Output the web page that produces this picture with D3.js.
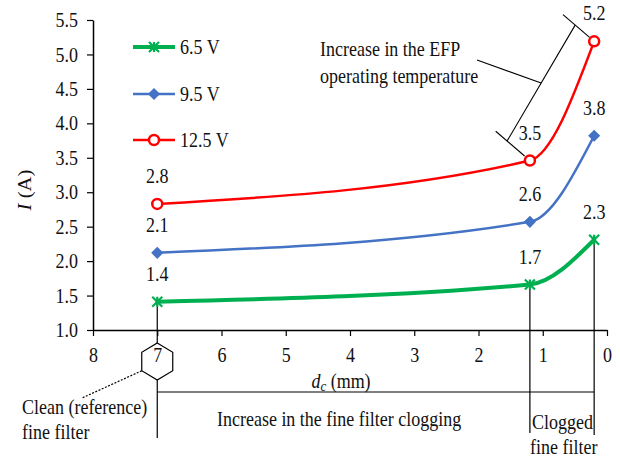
<!DOCTYPE html>
<html>
<head>
<meta charset="utf-8">
<script src="https://d3js.org/d3.v7.min.js"></script>
<style>
  body { margin: 0; background: #fff; }
  text { font-family: "Liberation Serif", "DejaVu Serif", serif; fill: #111; }
</style>
</head>
<body>
<div id="chart"></div>
<script>
// d_c (mm) at each measurement, and current I (A) per supply voltage
const dcValues = [7, 1.2, 0.2];
const seriesNames = ["6.5 V", "9.5 V", "12.5 V"];
const current65 = [1.41, 1.66, 2.31];
const current95 = [2.12, 2.57, 3.82];
const current125 = [2.83, 3.46, 5.19];
const yTicks = [1.0, 1.5, 2.0, 2.5, 3.0, 3.5, 4.0, 4.5, 5.0, 5.5];
const xTicks = [8, 7, 6, 5, 4, 3, 2, 1, 0];

const W = 620, H = 459;
const FS = 18, STRETCH = 1.15;   // source picture is a bit taller than wide
const FONT = '"Liberation Serif", "DejaVu Serif", serif';

const svg = d3.select("#chart").append("svg")
    .attr("width", W)
    .attr("height", H);

svg.append("rect").attr("width", W).attr("height", H).attr("fill", "#fff");

const x = d3.scaleLinear().domain([8, 0]).range([93, 607]);
const y = d3.scaleLinear().domain([1, 5.5]).range([330, 20]);

function txt(px, py, str, anchor) {
    return svg.append("text")
        .attr("transform", `translate(${px},${py}) scale(1,${STRETCH})`)
        .attr("text-anchor", anchor || "start")
        .style("font-family", FONT)
        .style("font-size", FS + "px")
        .text(str);
}

const series = [
    { name: seriesNames[0], values: current65, color: "#00b050", width: 4, marker: "star" },
    { name: seriesNames[1], values: current95, color: "#4472c4", width: 2.5, marker: "diamond" },
    { name: seriesNames[2], values: current125, color: "#ff0000", width: 2.5, marker: "circle" }
];

// ---- bottom annotation (drawn first so the axis sits on top)
const green = series[0].values;
const ann = svg.append("g").attr("stroke", "#000").attr("stroke-width", 1.2).attr("fill", "none");
ann.append("line")
    .attr("x1", x(7)).attr("y1", y(green[0]))
    .attr("x2", x(7)).attr("y2", 438);
ann.append("line")
    .attr("x1", x(1.2)).attr("y1", y(green[1]))
    .attr("x2", x(1.2)).attr("y2", 433);
ann.append("line")
    .attr("x1", x(0.2)).attr("y1", y(green[2]))
    .attr("x2", x(0.2)).attr("y2", 435);
ann.append("line")
    .attr("x1", x(7)).attr("y1", 392)
    .attr("x2", x(0.2)).attr("y2", 392);

// hexagon round the tick "7"
const hx = x(7), hy = 361.5, hr = 18.5, hw = 15.5;
ann.append("path")
    .attr("fill", "#fff")
    .attr("d", d3.line()([[hx, hy - hr], [hx + hw, hy - hr / 2], [hx + hw, hy + hr / 2],
        [hx, hy + hr], [hx - hw, hy + hr / 2], [hx - hw, hy - hr / 2]]) + "Z");
ann.append("line")
    .attr("x1", hx - hw).attr("y1", hy + hr / 2)
    .attr("x2", 82).attr("y2", 398)
    .attr("stroke-dasharray", "2,1.5");

// ---- axes
const xAxis = svg.append("g")
    .attr("transform", `translate(0,${y(1)})`)
    .call(d3.axisBottom(x).tickValues(xTicks).tickFormat(d3.format("d")).tickSize(6).tickSizeOuter(0));
xAxis.selectAll("text")
    .attr("y", 0).attr("dy", null)
    .attr("transform", `translate(0,32) scale(1,${STRETCH})`)
    .style("font-family", FONT)
    .style("font-size", FS + "px");

const yAxis = svg.append("g")
    .attr("transform", `translate(${x(8)},0)`)
    .call(d3.axisLeft(y).tickValues(yTicks).tickFormat(d3.format(".1f")).tickSize(6).tickPadding(9).tickSizeOuter(0));
yAxis.selectAll("text")
    .attr("transform", `scale(1,${STRETCH})`)
    .style("font-family", FONT)
    .style("font-size", FS + "px");

svg.selectAll(".domain").attr("stroke", "#000").attr("stroke-width", 1.5);
svg.selectAll(".tick line").attr("stroke", "#000").attr("stroke-width", 1.2);

// axis titles
const yt = svg.append("text")
    .attr("transform", `translate(31,190) rotate(-90) scale(${STRETCH},1)`)
    .attr("text-anchor", "middle")
    .style("font-family", FONT)
    .style("font-size", FS + "px");
yt.append("tspan").style("font-style", "italic").text("I");
yt.append("tspan").text(" (A)");

const xt = svg.append("text")
    .attr("transform", `translate(341,388) scale(1,${STRETCH})`)
    .attr("text-anchor", "middle")
    .style("font-family", FONT)
    .style("font-size", FS + "px");
xt.append("tspan").style("font-style", "italic").text("d");
xt.append("tspan").style("font-style", "italic").style("font-size", "13px").attr("dy", 3).text("c");
xt.append("tspan").attr("dy", -3).text(" (mm)");

// ---- markers
function drawMarker(g, type, color, px, py) {
    if (type === "circle") {
        g.append("circle").attr("cx", px).attr("cy", py).attr("r", 5)
            .attr("fill", "#fff").attr("stroke", color).attr("stroke-width", 2.5);
    } else if (type === "diamond") {
        g.append("path")
            .attr("d", `M${px},${py - 5}L${px + 5},${py}L${px},${py + 5}L${px - 5},${py}Z`)
            .attr("fill", color).attr("stroke", color).attr("stroke-width", 1.5);
    } else {
        const s = 5;
        g.append("path")
            .attr("d", `M${px - s},${py - s}L${px + s},${py + s}M${px - s},${py + s}L${px + s},${py - s}M${px},${py - s}L${px},${py + s}`)
            .attr("stroke", color).attr("stroke-width", 2.2).attr("fill", "none");
    }
}

// ---- lines
const line = d3.line()
    .x((d, i) => x(dcValues[i]))
    .y(d => y(d))
    .curve(d3.curveMonotoneX);

series.forEach(s => {
    svg.append("path")
        .attr("d", line(s.values))
        .attr("fill", "none")
        .attr("stroke", s.color)
        .attr("stroke-width", s.width)
        .attr("stroke-linecap", "round");
    const mg = svg.append("g");
    s.values.forEach((v, i) => drawMarker(mg, s.marker, s.color, x(dcValues[i]), y(v)));
    s.values.forEach((v, i) => txt(x(dcValues[i]), y(v) - 21, v.toFixed(1), "middle"));
});

// ---- legend
const legendY = [47, 94, 140];
series.forEach((s, i) => {
    svg.append("line")
        .attr("x1", 133).attr("x2", 175)
        .attr("y1", legendY[i]).attr("y2", legendY[i])
        .attr("stroke", s.color).attr("stroke-width", s.width);
    drawMarker(svg, s.marker, s.color, 154, legendY[i]);
    txt(180, legendY[i] + 7, s.name);
});

// ---- top annotation: temperature rise between the 12.5 V points
const red = series[2].values;
const p1 = [x(dcValues[1]), y(red[1])];
const p2 = [x(dcValues[2]), y(red[2])];
const dir = [-0.76, -0.65];
const at = (p, k) => [p[0] + dir[0] * k, p[1] + dir[1] * k];
const topAnn = svg.append("g").attr("stroke", "#000").attr("stroke-width", 1.1);
[[p1, 7, 45], [p2, 6, 41]].forEach(([p, a, b]) => {
    const A = at(p, a), B = at(p, b);
    topAnn.append("line").attr("x1", A[0]).attr("y1", A[1]).attr("x2", B[0]).attr("y2", B[1]);
});
const d1 = at(p1, 30), d2 = at(p2, 25);
topAnn.append("line").attr("x1", d1[0]).attr("y1", d1[1]).attr("x2", d2[0]).attr("y2", d2[1]);
const mid = [(d1[0] + d2[0]) / 2, (d1[1] + d2[1]) / 2];
topAnn.append("line").attr("x1", 477).attr("y1", 60).attr("x2", mid[0]).attr("y2", mid[1]);

txt(320, 56, "Increase in the EFP");
txt(320, 83, "operating temperature");

// ---- bottom texts
txt(22, 414, "Clean (reference)");
txt(22, 439, "fine filter");
txt(217, 426, "Increase in the fine filter clogging");
txt(532, 429, "Clogged");
txt(530, 454, "fine filter");
</script>
</body>
</html>
